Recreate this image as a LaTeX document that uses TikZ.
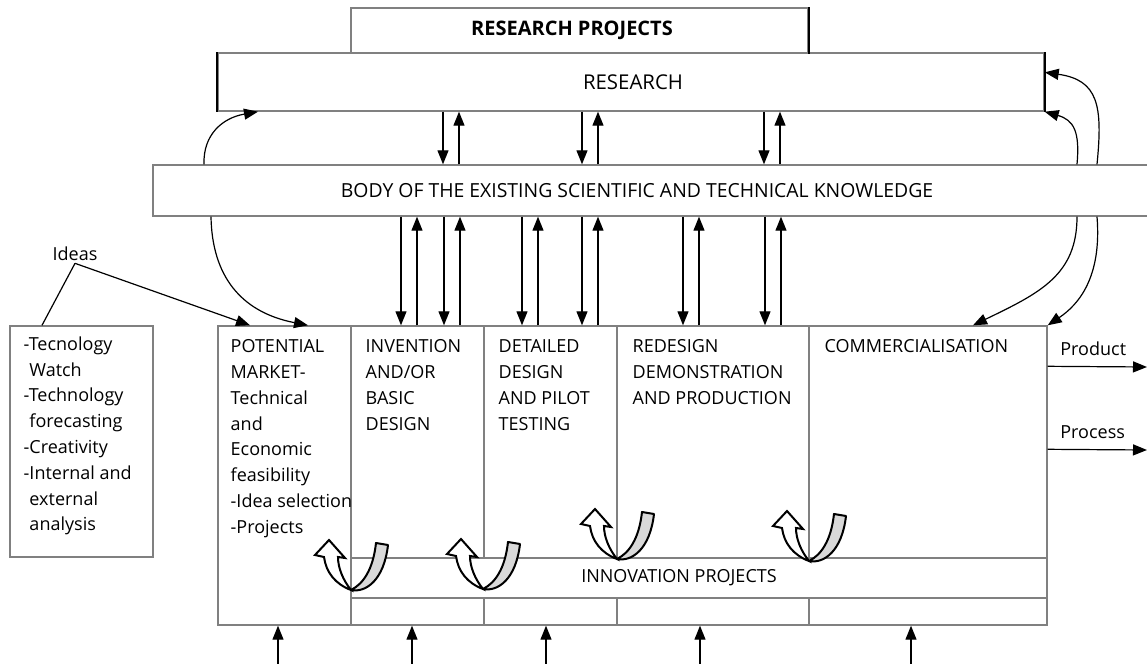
\documentclass[tikz,border=0pt]{standalone}
\usepackage{fontspec}
\setmainfont{Open Sans}
\usetikzlibrary{arrows.meta,fit,calc,positioning}

\tikzset{
  box/.style={draw=gray, line width=0.7pt, inner sep=0pt},
  arr/.style={-{Triangle[length=7pt,width=5.5pt]}, line width=0.6pt},
  coltext/.style={anchor=north west, align=left, inner sep=0pt},
  uturn/.pic={
    \draw[line width=1pt, fill=gray!30, line join=round]
      (0,0) .. controls (15,3) and (33,-10) .. (37,-45) -- (25,-47)
      .. controls (22,-20) and (12,-6) .. (0,0) -- cycle;
    \draw[line width=1pt, fill=white, line join=miter]
      (0,0) .. controls (-16,-6) and (-25,-18) .. (-27,-33) -- (-36,-35)
      -- (-22,-50) -- (-6,-32) -- (-13,-33)
      .. controls (-13,-22) and (-8,-10) .. (0,0) -- cycle;
  }
}

\begin{document}
\begin{tikzpicture}[x=0.5pt, y=-0.5pt, font=\fontsize{9}{12.9}\selectfont]
      \useasboundingbox (0,0) rectangle (1147,664);
      \node[box, fit={(351,8) (808,53)}] (rp) {};
      \node[box, fit={(218,53) (1044,111)}] (res) {};
      \node[box, fit={(153,165) (1152,216)}] (body) {};
      \node[box, fit={(10,326) (153,557)}] (lb) {};
      \node[box, fit={(218,326) (1047,625)}] (main) {};
      \node[box, fit={(218,326) (351,625)}] (pm) {};
      \node[box, fit={(351,326) (484,625)}] (inv) {};
      \node[box, fit={(484,326) (617,625)}] (det) {};
      \node[box, fit={(617,326) (809,625)}] (red) {};
      \node[box, fit={(809,326) (1047,625)}] (com) {};
      \node[box, fill=white, fit={(351,558) (1047,598)}] (innov) {};
      \draw[line width=1pt] (rp.north east) -- (rp.south east);
      \draw[line width=1.1pt] (res.north west) -- (res.south west);
      \draw[line width=1pt] (res.north east) -- (res.south east);

      \node[font=\fontsize{10}{12}\selectfont\bfseries] (rptxt) at (572,0 |- rp.center) {RESEARCH PROJECTS};
      \node[font=\fontsize{10.2}{12}\selectfont] (restxt) at (633,0 |- res.center) {RESEARCH};
      \node[font=\fontsize{9.7}{12}\selectfont] (bodytxt) at (637,0 |- body.center)
        {BODY OF THE EXISTING SCIENTIFIC AND TECHNICAL KNOWLEDGE};
      \node (innovtxt) at (679,0 |- innov.center) {INNOVATION PROJECTS};
      \node[coltext] (lbtxt) at ([shift={(14,11)}]lb.north west)
        {-Tecnology\\\phantom{-}Watch\\-Technology\\\phantom{-}forecasting\\-Creativity\\-Internal and\\\phantom{-}external\\\phantom{-}analysis};
      \node[coltext] (pmtxt) at ([shift={(13,14)}]pm.north west)
        {POTENTIAL\\MARKET-\\Technical\\and\\Economic\\feasibility\\-Idea selection\\-Projects};
      \node[coltext] (invtxt) at ([shift={(15,14)}]inv.north west)
        {INVENTION\\AND/OR\\BASIC\\DESIGN};
      \node[coltext] (dettxt) at ([shift={(15,14)}]det.north west)
        {DETAILED\\DESIGN\\AND PILOT\\TESTING};
      \node[coltext] (redtxt) at ([shift={(16,14)}]red.north west)
        {REDESIGN\\DEMONSTRATION\\AND PRODUCTION};
      \node[coltext] (comtxt) at ([shift={(16,14)}]com.north west)
        {COMMERCIALISATION};
      \node[inner sep=1pt] (ideas) at (75,254) {Ideas};
      \node[anchor=west, inner sep=0pt] (prod) at (1060,349) {Product};
      \node[anchor=west, inner sep=0pt] (proc) at (1060,432) {Process};
      \coordinate (prodend) at (1147,367);
      \coordinate (procend) at (1147,450);
      \coordinate (bottom) at (0,664);

      \foreach \x in {443,582,764} {
        \draw[arr] (\x,0 |- res.south) -- (\x,0 |- body.north);
        \draw[arr] (\x+16,0 |- body.north) -- (\x+16,0 |- res.south);
      }
      \foreach \x in {401,444,522,582,683,765} {
        \draw[arr] (\x,0 |- body.south) -- (\x,0 |- main.north);
        \draw[arr] (\x+16,0 |- main.north) -- (\x+16,0 |- body.south);
      }
      \foreach \x in {278,412,546,700,911}
        \draw[arr] (\x,0 |- bottom) -- (\x,0 |- main.south);

      \draw[arr] (204,0 |- body.north) .. controls (203,135) and (222,118) .. (258,0 |- res.south);
      \draw[arr] (211,0 |- body.south) .. controls (212,275) and (240,312) .. (308,0 |- main.north);
      \draw[line width=0.6pt] (42,0 |- lb.north) -- (ideas.south);
      \draw[arr] (ideas.south) -- (250,0 |- main.north);
      \draw[arr] (1077,0 |- body.north) .. controls (1080,132) and (1074,120) .. (res.south east);
      \draw[arr] (1097,0 |- body.north) .. controls (1103,105) and (1098,80) .. ([yshift=-10pt]res.north east);
      \draw[arr] (1077,0 |- body.south) .. controls (1077,275) and (1040,293) .. (973,0 |- main.north);
      \draw[arr] (1097,0 |- body.south) .. controls (1102,278) and (1078,305) .. (main.north east);
      \draw[arr] ([yshift=-20.5pt]com.north east) -- (prodend);
      \draw[arr] ([yshift=-62pt]com.north east) -- (procend);

      \pic at (351,590) {uturn};
      \pic at (483,589) {uturn};
      \pic at (617,559) {uturn};
      \pic at (809,561) {uturn};
    \end{tikzpicture}
\end{document}
